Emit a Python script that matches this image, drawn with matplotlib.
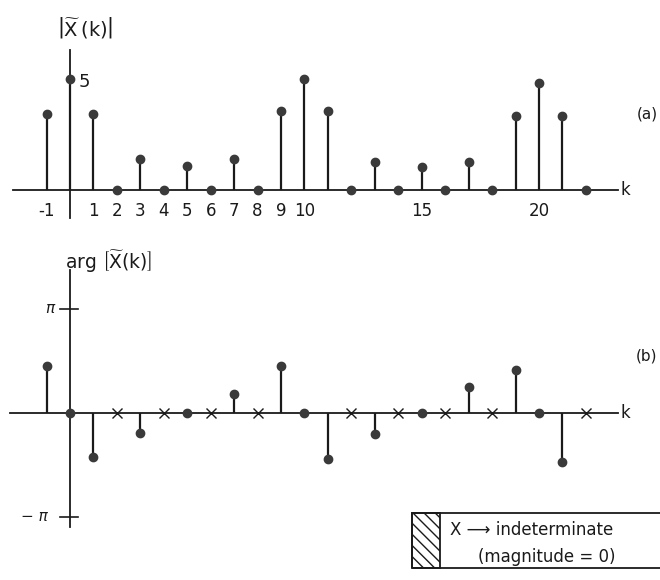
import numpy as np
import matplotlib.pyplot as plt
from matplotlib.patches import Rectangle

# k = -1 .. 22
k = np.arange(-1, 23)
# |X(k)|
mag = [3.4, 5.0, 3.4, 0, 1.4, 0, 1.1, 0, 1.4, 0, 3.55, 5.0,
       3.55, 0, 1.25, 0, 1.05, 0, 1.25, 0, 3.35, 4.8, 3.35, 0]
# arg X(k) in units of pi, nan = indeterminate (magnitude 0)
phase = [0.45, 0, -0.42, np.nan, -0.19, np.nan, 0, np.nan, 0.18, np.nan, 0.45, 0,
         -0.44, np.nan, -0.2, np.nan, 0, np.nan, 0.25, np.nan, 0.41, 0, -0.47, np.nan]
tick_k = [-1, 1, 2, 3, 4, 5, 6, 7, 8, 9, 10, 15, 20]

plt.rcParams['font.family'] = ['DejaVu Sans']
plt.rcParams['mathtext.fontset'] = 'dejavusans'
ink = '#1a1a1a'
dot = '#3a3a3a'

fig = plt.figure(figsize=(6.6, 5.8), dpi=100)
xl = (-2.985, 25.16)

# ---- (a) magnitude ----
ax1 = fig.add_axes([0, 1 - 225 / 580, 1, 225 / 580])
ax1.set_xlim(xl)
ax1.set_ylim(-1.58, 8.56)
ax1.axis('off')
ax1.plot([-2.43, 23.37], [0, 0], color=ink, lw=1.3)
ax1.plot([0, 0], [-1.26, 6.3], color=ink, lw=1.3)
ax1.vlines(k, 0, mag, color=ink, lw=1.6)
ax1.plot(k, mag, 'o', color=dot, ms=6)
for t in tick_k:
    ax1.text(t, -0.95, str(t), ha='center', va='center', fontsize=12, color=ink)
ax1.text(0.6, 4.85, '5', ha='center', va='center', fontsize=13, color=ink)
ax1.text(-0.55, 7.3, r'$\left|\widetilde{\mathrm{X}}\,(\mathrm{k})\right|$',
         ha='left', va='center', fontsize=14, color=ink)
ax1.text(23.7, 0, 'k', ha='center', va='center', fontsize=12, color=ink)
ax1.text(24.6, 3.4, '(a)', ha='center', va='center', fontsize=11, color=ink)

# ---- (b) phase ----
ax2 = fig.add_axes([0, 0, 1, 340 / 580])
ax2.set_xlim(xl)
ax2.set_ylim(-1.606, 1.663)
ax2.axis('off')
ax2.plot([-2.56, 23.37], [0, 0], color=ink, lw=1.3)
ax2.plot([0, 0], [-1.096, 1.375], color=ink, lw=1.3)
for yv in (1, -1):
    ax2.plot([-0.43, 0.34], [yv, yv], color=ink, lw=1.2)
ax2.text(-0.85, 1, '\u03c0', ha='center', va='center', fontsize=11, color=ink, style='italic')
ax2.text(-1.5, -1, '\u2212 \u03c0', ha='center', va='center', fontsize=11, color=ink, style='italic')

ph = np.array(phase, dtype=float)
ok = ~np.isnan(ph)
ax2.vlines(k[ok], 0, ph[ok], color=ink, lw=1.6)
ax2.plot(k[ok], ph[ok], 'o', color=dot, ms=6)
ax2.plot(k[~ok], np.zeros((~ok).sum()), 'x', color=ink, ms=7, mew=1.0)
ax2.text(-0.2, 1.45, r'$\mathrm{arg}\ \left[\widetilde{\mathrm{X}}(\mathrm{k})\right]$',
         ha='left', va='center', fontsize=13.5, color=ink)
ax2.text(23.7, 0, 'k', ha='center', va='center', fontsize=12, color=ink)
ax2.text(24.6, 0.55, '(b)', ha='center', va='center', fontsize=11, color=ink)

# ---- legend box ----
fig.patches.append(Rectangle((412 / 660, 12 / 580), 260 / 660, 55 / 580,
                             transform=fig.transFigure, fill=False, ec=ink, lw=1.3))
fig.patches.append(Rectangle((412 / 660, 12 / 580), 28 / 660, 55 / 580,
                             transform=fig.transFigure, fill=False, ec=ink, lw=1.3,
                             hatch='\\\\\\'))
fig.text(450 / 660, 1 - 530 / 580, 'X \u27f6 indeterminate', ha='left', va='center',
         fontsize=12, color=ink, family=['DejaVu Sans'])
fig.text(478 / 660, 1 - 557 / 580, '(magnitude = 0)', ha='left', va='center',
         fontsize=12, color=ink)

fig.savefig('out.png', dpi=100)
